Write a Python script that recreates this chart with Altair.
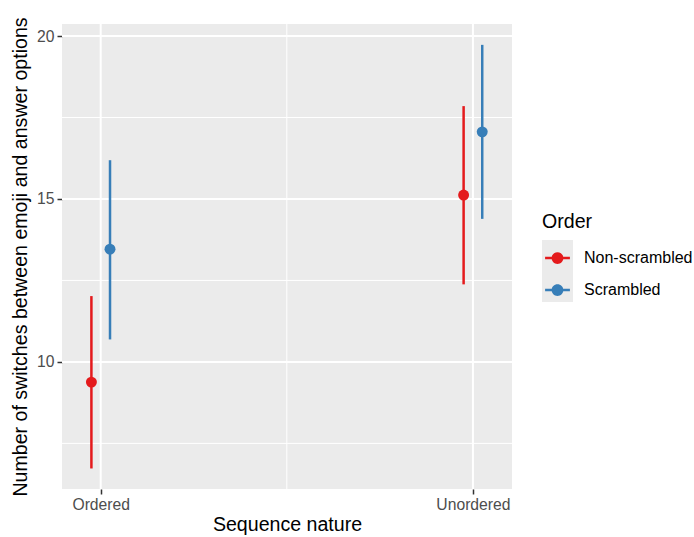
import altair as alt
import pandas as pd

# Group means with confidence limits
sequence = ["Ordered", "Ordered", "Unordered", "Unordered"]
order = ["Non-scrambled", "Scrambled", "Non-scrambled", "Scrambled"]
mean = [9.38, 13.46, 15.12, 17.06]
lower = [6.73, 10.69, 12.38, 14.39]
upper = [12.02, 16.19, 17.85, 19.73]

seq_levels = ["Ordered", "Unordered"]
order_levels = ["Non-scrambled", "Scrambled"]
order_colors = ["#E41A1C", "#377EB8"]

# Panel gridlines
y_major = [10, 15, 20]
y_minor = [7.5, 12.5, 17.5]
x_major = [1, 2]
x_minor = [1.5]

FONT = "Liberation Sans"
DODGE = 0.025

df = pd.DataFrame({"sequence": sequence, "order": order,
                   "mean": mean, "lower": lower, "upper": upper})

xscale = alt.Scale(domain=[0.896, 2.105], nice=False, zero=False)
yscale = alt.Scale(domain=[6.10, 20.37], nice=False, zero=False)

xpos = alt.X("xpos:Q", scale=xscale,
             axis=alt.Axis(values=x_major, title="Sequence nature",
                           labelExpr="datum.value == 1 ? 'Ordered' : 'Unordered'",
                           grid=False, domain=False, tickColor="#333333",
                           tickSize=5, tickWidth=1.5, labelPadding=3,
                           labelColor="#4D4D4D", labelFontSize=15.7,
                           labelFont=FONT, titleFont=FONT, titleFontSize=19.6,
                           titleFontWeight="normal", titleColor="#000000",
                           titlePadding=4))

base = alt.Chart(df).transform_calculate(
    xpos=f"indexof({seq_levels}, datum.sequence) + 1 + "
         f"(datum.order == '{order_levels[0]}' ? -{DODGE} : {DODGE})"
)

color = alt.Color("order:N",
                  scale=alt.Scale(domain=order_levels, range=order_colors),
                  legend=alt.Legend(
                      title="Order", orient="none", legendX=480, legendY=189,
                      titleFont=FONT, titleFontSize=19.6, titleFontWeight="normal",
                      titleColor="#000000", titlePadding=10,
                      labelFont=FONT, labelFontSize=16, labelColor="#000000",
                      labelOffset=11, rowPadding=8,
                      symbolType="M-0.8,-0.08H0.8V0.08H-0.8Z"
                                 "M0.38,0A0.38,0.38 0 1,1 -0.38,0A0.38,0.38 0 1,1 0.38,0Z",
                      symbolSize=961, symbolStrokeWidth=0, symbolOpacity=1))

bars = base.mark_rule(strokeWidth=2.5).encode(
    x=xpos,
    y=alt.Y("lower:Q", scale=yscale,
            axis=alt.Axis(values=y_major, title="Number of switches between emoji and answer options",
                          grid=False, domain=False, tickColor="#333333",
                          tickSize=5, tickWidth=1.5, labelPadding=3,
                          labelColor="#4D4D4D", labelFontSize=15.7, labelFont=FONT,
                          titleFont=FONT, titleFontSize=19.6, titleFontWeight="normal",
                          titleColor="#000000", titlePadding=6)),
    y2="upper:Q",
    color=color,
)

points = base.mark_point(filled=True, size=120, opacity=1).encode(
    x=xpos,
    y=alt.Y("mean:Q", scale=yscale),
    color=color,
)

def hgrid(vals, width):
    return alt.Chart(pd.DataFrame({"v": vals})).mark_rule(
        color="white", strokeWidth=width).encode(y=alt.Y("v:Q", scale=yscale))

def vgrid(vals, width):
    return alt.Chart(pd.DataFrame({"v": vals})).mark_rule(
        color="white", strokeWidth=width).encode(x=alt.X("v:Q", scale=xscale))

# grey backing behind the legend keys
key_bg = alt.Chart(alt.Data(values=[{}])).mark_rect(color="#EBEBEB").encode(
    x=alt.value(480), x2=alt.value(511), y=alt.value(216), y2=alt.value(278))

chart = alt.layer(
    hgrid(y_minor, 1), vgrid(x_minor, 1),
    hgrid(y_major, 2), vgrid(x_major, 2),
    key_bg, bars, points,
).properties(
    width=450, height=465,
    autosize=alt.AutoSizeParams(type="none"),
    padding={"left": 62, "top": 24, "right": 182, "bottom": 48},
    background="white",
).configure_view(fill="#EBEBEB", stroke=None)

chart.save("out.html", embed_options={"renderer": "svg", "actions": False})
